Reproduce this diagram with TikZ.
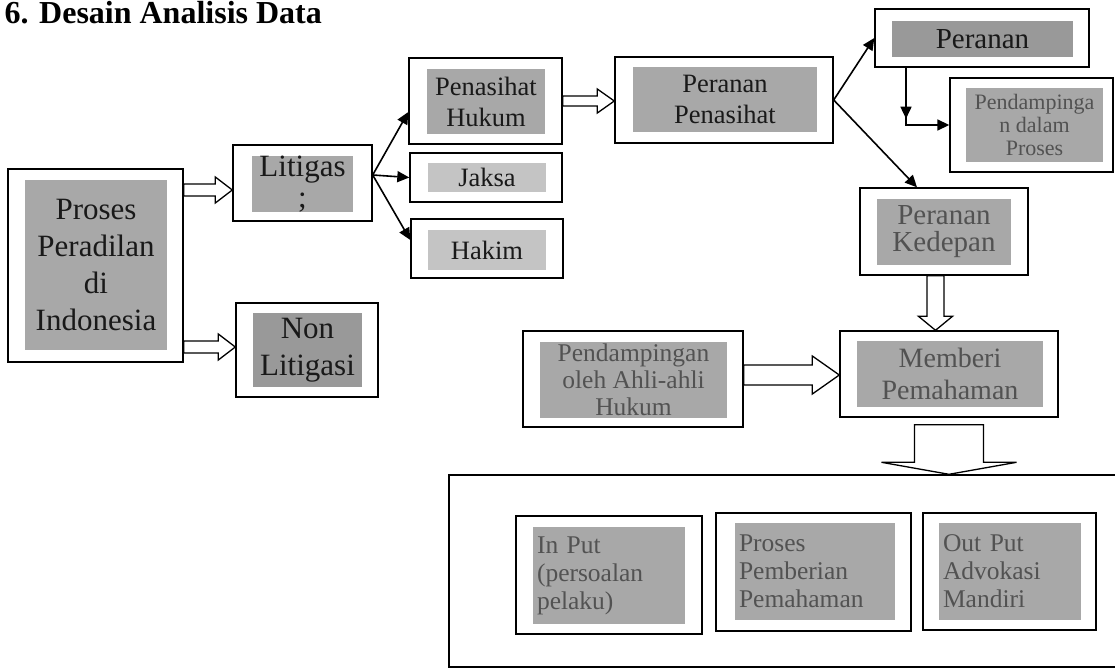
\documentclass[tikz,border=0pt]{standalone}
\usepackage{fontspec}
\setmainfont{Liberation Serif}
\usepackage{xcolor}
\usetikzlibrary{positioning, arrows.meta, calc}

\definecolor{hlgray}{gray}{0.66}
\definecolor{hllight}{gray}{0.77}
\definecolor{hldark}{gray}{0.6}
\definecolor{dimtext}{gray}{0.32}

\newcommand{\fsbig}{\fontsize{31}{37}\selectfont}
\newcommand{\fsmid}{\fontsize{26.5}{31}\selectfont}
\newcommand{\fslow}{\fontsize{29}{27}\selectfont}
\newcommand{\fstiny}{\fontsize{22}{23}\selectfont}
\newcommand{\fsbox}{\fontsize{25.5}{28}\selectfont}

\newcommand{\fatright}[5]{\draw[hollow] let \p1=(#1), \p2=(#2) in
  (\x1,\y1+#3pt) -- (\x2-#5pt,\y1+#3pt) -- (\x2-#5pt,\y1+#4pt) -- (\x2,\y1)
  -- (\x2-#5pt,\y1-#4pt) -- (\x2-#5pt,\y1-#3pt) -- (\x1,\y1-#3pt) -- cycle;}
\newcommand{\fatdown}[5]{\draw[hollow] let \p1=(#1), \p2=(#2) in
  (\x1+#3pt,\y1) -- (\x1+#3pt,\y2+#5pt) -- (\x1+#4pt,\y2+#5pt) -- (\x1,\y2)
  -- (\x1-#4pt,\y2+#5pt) -- (\x1-#3pt,\y2+#5pt) -- (\x1-#3pt,\y1) -- cycle;}

\begin{document}
\begin{tikzpicture}[x=1pt, y=-1pt,
    box/.style={draw, line width=1.4pt, inner sep=0pt, fill=white},
    hl/.style={fill=hlgray, inner sep=0pt, align=center, text=black!90},
    dim/.style={hl, text=dimtext},
    lbox/.style={dim, align=left, inner xsep=4pt, font=\fsbox},
    arr/.style={line width=1.6pt, -{Triangle[length=12pt, width=11pt]}},
    hollow/.style={draw, line width=1.3pt, fill=white}]
    \useasboundingbox (0,0) rectangle (1115,669);
    \node[anchor=base west, font=\bfseries\fontsize{32}{36}\selectfont] (title) at (1,24) {6. Desain Analisis Data};

    \node[box, minimum width=175pt, minimum height=193pt] (proses) at (95.5,265.5) {};
    \node[hl, minimum width=142pt, minimum height=170pt, font=\fsbig] at (96,265) {Proses\\Peradilan\\di\\Indonesia};
    \node[box, minimum width=139pt, minimum height=76pt] (litigas) at (302.5,183) {};
    \node[hl, minimum width=101pt, minimum height=55pt, font=\fontsize{31}{31}\selectfont] at (302.5,184) {Litigas\\;};
    \node[box, minimum width=142pt, minimum height=94pt] (nonlit) at (307,350) {};
    \node[hl, fill=hldark, minimum width=109pt, minimum height=74pt, font=\fsbig] at (307.5,350) {Non\\Litigasi};

    \node[box, minimum width=153pt, minimum height=86pt] (penasihat) at (485.5,101) {};
    \node[hl, minimum width=118pt, minimum height=65pt, font=\fsmid] at (486,101.5) {Penasihat\\Hukum};
    \node[box, minimum width=152pt, minimum height=49pt] (jaksa) at (486,177.5) {};
    \node[hl, fill=hllight, minimum width=118pt, minimum height=29pt, font=\fsmid] at (487,177.5) {Jaksa};
    \node[box, minimum width=152pt, minimum height=59pt] (hakim) at (487,248.5) {};
    \node[hl, fill=hllight, minimum width=118pt, minimum height=40pt, font=\fsmid] at (487,250) {Hakim};

    \node[box, minimum width=218pt, minimum height=86pt] (perpen) at (724,100) {};
    \node[hl, minimum width=184pt, minimum height=65pt, font=\fsmid] at (725,99.5) {Peranan\\Penasihat};
    \node[box, minimum width=214pt, minimum height=58pt] (peranan) at (982,38) {};
    \node[hl, fill=hldark, minimum width=181pt, minimum height=36pt, font=\fontsize{29}{31}\selectfont] at (982.5,39) {Peranan};
    \node[box, minimum width=163pt, minimum height=94pt] (dampingproses) at (1031.5,125) {};
    \node[dim, minimum width=137pt, minimum height=74pt, font=\fstiny] at (1034.5,125) {Pendampinga\\n dalam\\Proses};
    \node[box, minimum width=168pt, minimum height=87pt] (kedepan) at (944,231.5) {};
    \node[dim, minimum width=134pt, minimum height=66pt, font=\fslow] at (944,232) {Peranan\\Kedepan};

    \node[box, minimum width=218pt, minimum height=86pt] (memberi) at (949,374) {};
    \node[dim, minimum width=186pt, minimum height=66pt, font=\fontsize{28}{32}\selectfont] at (950,374) {Memberi\\Pemahaman};
    \node[box, minimum width=220pt, minimum height=96pt] (ahli) at (633,379) {};
    \node[dim, minimum width=187pt, minimum height=76pt, font=\fontsize{25.5}{27}\selectfont] at (633.5,380) {Pendampingan\\oleh Ahli-ahli\\Hukum};

    \node[box, minimum width=676pt, minimum height=192pt] (bigbox) at (787,571) {};
    \node[box, minimum width=186pt, minimum height=118pt] (input) at (609,575) {};
    \node[lbox, minimum width=152pt, minimum height=97pt, text width=144pt] at (609,575.5) {In Put\\(persoalan\\pelaku)};
    \node[box, minimum width=195pt, minimum height=118pt] (prosesp) at (813.5,572) {};
    \node[lbox, minimum width=160pt, minimum height=97pt, text width=152pt] at (815,571.5) {Proses\\Pemberian\\Pemahaman};
    \node[box, minimum width=173pt, minimum height=117pt] (output) at (1009.5,571.5) {};
    \node[lbox, minimum width=142pt, minimum height=97pt, text width=134pt] at (1010,571.5) {Out Put\\Advokasi\\Mandiri};

    \fatright{$(proses.east|-litigas.west)+(0,7)$}{litigas.west}{6}{13}{17}
    \fatright{$(proses.east|-nonlit.west)+(0,-3)$}{nonlit.west}{6}{13}{17}
    \fatright{penasihat.east}{perpen.west}{5}{12}{17}
    \fatright{$(ahli.east)+(0,-4)$}{memberi.west}{10}{19}{27}
    \fatdown{$(kedepan.south)+(-8.5,0)$}{memberi.north}{8.5}{17}{14}
    \fatdown{$(memberi.south)+(0,7)$}{bigbox.north}{34.5}{67.5}{12}

    \coordinate (fanA) at ($(litigas.east)+(0,-8)$);
    \draw[arr] (fanA) -- ($(penasihat.west)+(0,11)$);
    \draw[arr] (fanA) -- (jaksa.west);
    \draw[arr] (fanA) -- ($(hakim.west)+(0,-8.5)$);
    \draw[arr] (perpen.east) -- (peranan.west);
    \draw[arr] (perpen.east) -- ($(kedepan.north)+(-27,0)$);
    \coordinate (pd) at ($(peranan.south)+(-76,0)$);
    \draw[arr] (pd) -- ++(0,51);
    \draw[arr] ($(pd)+(0,48)$) -- (pd |- dampingproses.west) -- (dampingproses.west);
\end{tikzpicture}
\end{document}
